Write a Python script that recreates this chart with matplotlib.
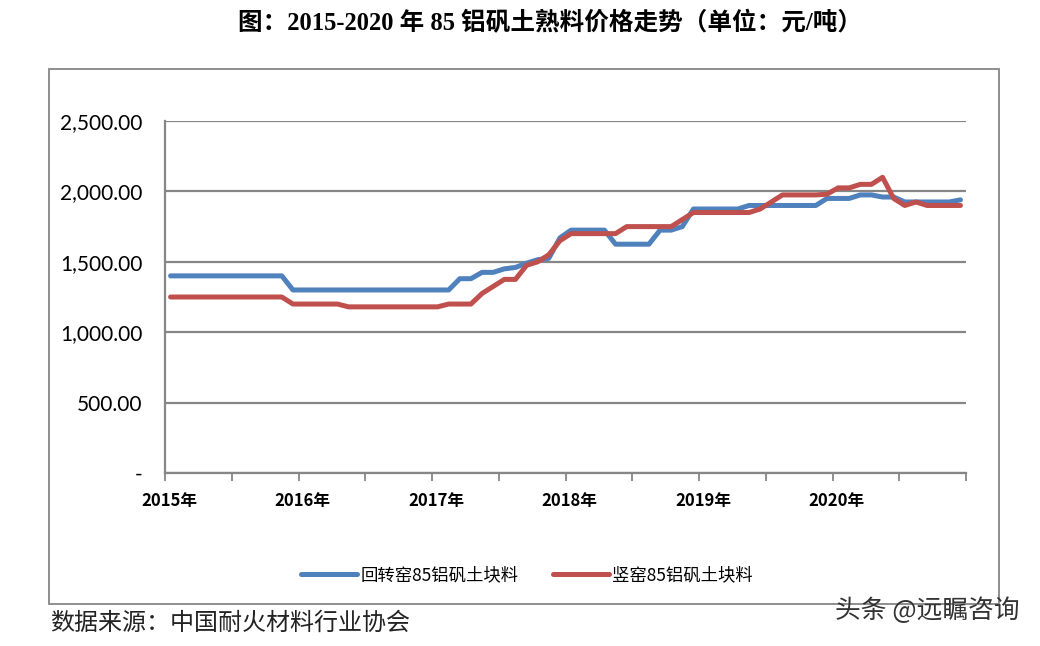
import numpy as np
import matplotlib.pyplot as plt
from matplotlib.patches import Rectangle

plt.rcParams['font.family'] = ['Noto Sans CJK SC', 'DejaVu Sans']

# monthly prices, Jan 2015 - Dec 2020 (yuan/ton)
rotary = ([1400] * 11 + [1300] * 15 +
          [1380, 1380, 1425, 1425, 1450, 1460, 1490, 1515, 1525, 1670,
           1725, 1725, 1725, 1725, 1625, 1625, 1625, 1625, 1725, 1725,
           1750] +
          [1875] * 5 + [1900] * 7 +
          [1950, 1950, 1950, 1975, 1975, 1960, 1960,
           1925, 1925, 1925, 1925, 1925, 1940])
shaft = ([1250] * 11 + [1200] * 5 + [1180] * 9 +
         [1200, 1200, 1200, 1275, 1325, 1375, 1375, 1475, 1500, 1550, 1650,
          1700, 1700, 1700, 1700, 1700, 1750, 1750, 1750, 1750, 1750,
          1800] +
         [1850] * 6 +
         [1875, 1925, 1975, 1975, 1975, 1975, 1980, 2025, 2025, 2050, 2050,
          2100, 1950, 1900, 1925, 1900, 1900, 1900, 1900])
years = ['2015年', '2016年', '2017年', '2018年', '2019年', '2020年']
series_names = ['回转窑85铝矾土块料', '竖窑85铝矾土块料']

fig = plt.figure(figsize=(10.4, 6.46), dpi=100)

# outer chart frame
fig.patches.append(Rectangle((49 / 1040, 1 - 604 / 646), 950 / 1040, 535 / 646,
                             transform=fig.transFigure, fill=False,
                             edgecolor='#868686', linewidth=1.3))

ax = fig.add_axes([165 / 1040, 1 - 473 / 646, 801 / 1040, 352 / 646])
x = np.arange(len(rotary)) + 0.5
ax.plot(x, rotary, color='#4F81BD', linewidth=3.6, label=series_names[0],
        solid_joinstyle='round', solid_capstyle='round')
ax.plot(x, shaft, color='#C0504D', linewidth=3.6, label=series_names[1],
        solid_joinstyle='round', solid_capstyle='round')

ax.set_xlim(0, 72)
ax.set_ylim(0, 2500)
ax.set_yticks(np.arange(0, 2501, 500))
ax.set_yticklabels(['-'] + ['{:,.2f}'.format(v) for v in range(500, 2501, 500)],
                   fontsize=15, family=['Lato', 'DejaVu Sans'])
ax.yaxis.grid(True, color='#868686', linewidth=1.6)
ax.set_axisbelow(True)
ax.tick_params(axis='y', length=0, pad=16)

ax.set_xticks(np.arange(0, 73, 6))
ax.set_xticklabels([])
ax.tick_params(axis='x', length=6, width=1.3, color='#868686', direction='out')
for i, yl in enumerate(years):
    ax.text(i * 12 + 0.35, -0.055, yl, transform=ax.get_xaxis_transform(),
            ha='center', va='top', fontsize=12, fontweight='bold')

for s in ['top', 'right']:
    ax.spines[s].set_visible(False)
for s in ['left', 'bottom']:
    ax.spines[s].set_color('#868686')
    ax.spines[s].set_linewidth(1.6)

fig.legend(loc='center', bbox_to_anchor=(527 / 1040, 1 - 575 / 646), ncol=2,
           frameon=False, fontsize=12.5, handlelength=3.2, columnspacing=2.0,
           handletextpad=0.2)

fig.text(550 / 1040, 1 - 23 / 646,
         '图：2015-2020 年 85 铝矾土熟料价格走势（单位：元/吨）',
         ha='center', va='center', fontsize=17.7, fontweight='bold',
         family=['Liberation Serif', 'Noto Sans CJK SC'])
fig.text(50 / 1040, 1 - 623 / 646, '数据来源：中国耐火材料行业协会',
         ha='left', va='center', fontsize=17.3, color='#222222')
fig.text(1020 / 1040, 1 - 611 / 646, '头条 @远瞩咨询',
         ha='right', va='center', fontsize=18.5, color='#333333')

fig.savefig('out.png', dpi=100)
